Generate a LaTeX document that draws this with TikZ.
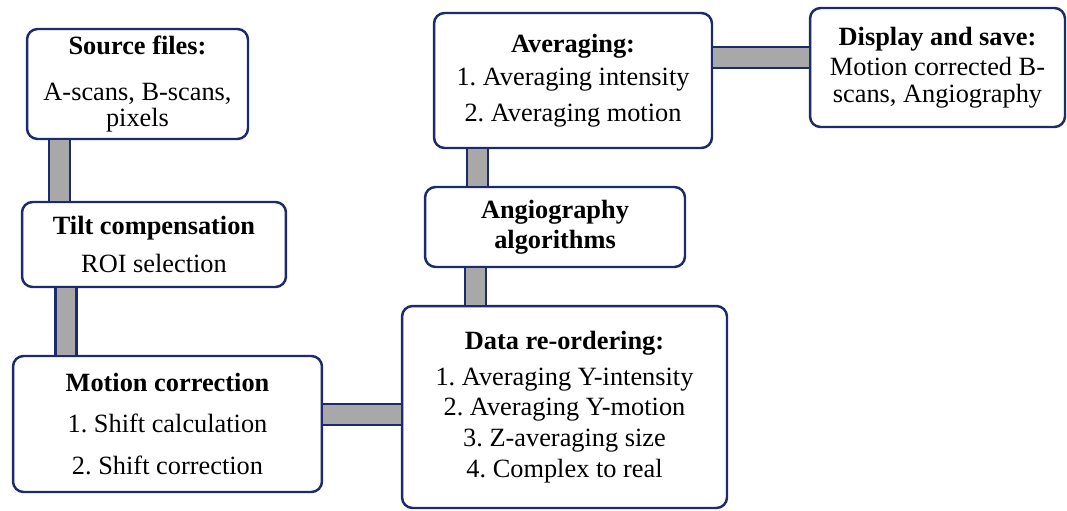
\documentclass[tikz,border=0pt]{standalone}
\usepackage{fontspec}
\setmainfont{Liberation Serif}
\frenchspacing
\definecolor{boxline}{HTML}{1C2A6E}
\definecolor{barfill}{HTML}{A8A8A8}

\begin{document}
\begin{tikzpicture}[x=0.02cm, y=-0.02cm,
        box/.style = {draw=boxline, line width=1.4pt, rounded corners=6pt, fill=white, align=center, inner sep=0pt, font=\fontsize{15}{15}\selectfont},
        link/.style = {draw=boxline, line width=1.3pt, double=barfill, double distance=0.38cm}]
        \useasboundingbox (0,0) rectangle (1067,510);

        \node[box, minimum width=4.42cm, minimum height=2.2cm] (src) at (137.5, 84) {\textbf{Source files:}\\[11.5pt] A-scans, B-scans,\\ pixels};
        \node[box, minimum width=5.28cm, minimum height=1.7cm] (tilt) at (154, 244.5) {\textbf{Tilt compensation}\\[6.5pt] ROI selection};
        \node[box, minimum width=6.18cm, minimum height=2.72cm] (motion) at (167.5, 424) {\textbf{Motion correction}\\[8.5pt] 1. Shift calculation\\[8.5pt] 2. Shift correction};
        \node[box, minimum width=6.5cm, minimum height=4.04cm] (data) at (564.5, 407) {\textbf{Data re-ordering:}\\[5.5pt] 1. Averaging Y-intensity\\[2.5pt] 2. Averaging Y-motion\\[2.5pt] 3. Z-averaging size\\[2.5pt] 4. Complex to real};
        \node[box, minimum width=5.2cm, minimum height=1.6cm] (angio) at (555, 227) {\textbf{Angiography}\\[2pt] \textbf{algorithms}};
        \node[box, minimum width=5.56cm, minimum height=2.7cm] (avg) at (573, 80.5) {\textbf{Averaging:}\\[3.5pt] 1. Averaging intensity\\[5.5pt] 2. Averaging motion};
        \node[box, minimum width=5.1cm, minimum height=2.38cm] (disp) at (937.5, 67.5) {\textbf{Display and save:}\\[2.5pt] Motion corrected B-\\ scans, Angiography};

        \coordinate (c1) at (59.5, 0);
        \coordinate (c2) at (66, 0);
        \coordinate (c3) at (0, 414.5);
        \coordinate (c4) at (475.5, 0);
        \coordinate (c5) at (477.5, 0);
        \coordinate (c6) at (0, 57.5);

        \draw[link] (src.south -| c1) -- (tilt.north -| c1);
        \draw[link] (tilt.south -| c2) -- (motion.north -| c2);
        \draw[link] (motion.east |- c3) -- (data.west |- c3);
        \draw[link] (data.north -| c4) -- (angio.south -| c4);
        \draw[link] (angio.north -| c5) -- (avg.south -| c5);
        \draw[link] (avg.east |- c6) -- (disp.west |- c6);
    \end{tikzpicture}
\end{document}
